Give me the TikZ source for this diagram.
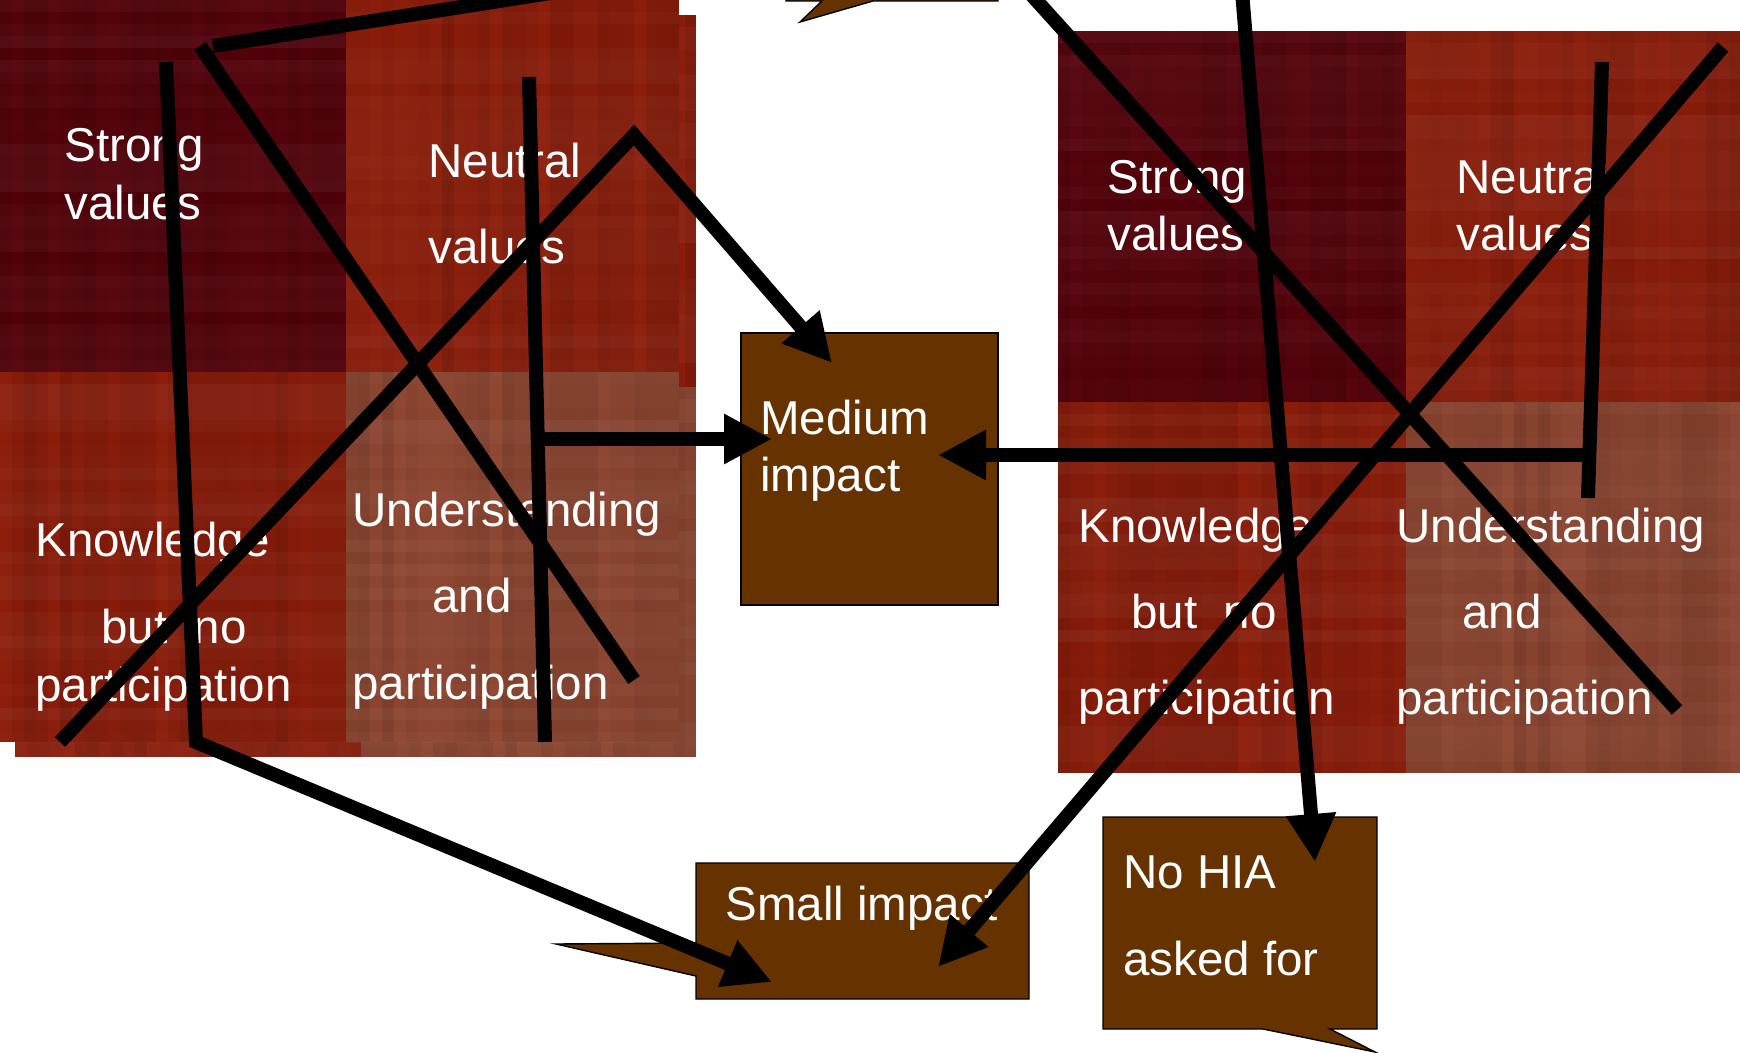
\documentclass[tikz,border=0pt]{standalone}
\usepackage{fontspec}
\setmainfont{Liberation Sans}
\usetikzlibrary{arrows.meta}
\definecolor{qdark}{HTML}{54020A}
\definecolor{qred}{HTML}{8C1D0B}
\definecolor{qlight}{HTML}{8E4631}
\definecolor{boxbrown}{HTML}{663300}
\tikzset{
  lbl/.style={text=white, anchor=base west, inner sep=0pt, font=\fontsize{23.75pt}{28pt}\selectfont},
  conn/.style={line width=7pt, black, line cap=butt, line join=miter},
  arr/.style={conn, -{Triangle[length=24pt,width=23.5pt]}},
  callout/.style={fill=boxbrown, draw=black, line width=0.7pt},
}
\newcommand{\quadfill}[6]{%
  \fill[#5] (#1,#2) rectangle (#3,#4);
  \begin{scope}
    \clip (#1,#2) rectangle (#3,#4);
    \pgfmathsetseed{#6}
    \foreach \k in {0,...,29} {
      \pgfmathsetmacro\op{rnd*0.13}
      \fill[black,opacity=\op] ({#1+\k*12},#2) rectangle ({#1+\k*12+12},#4);
    }
    \foreach \k in {0,...,31} {
      \pgfmathsetmacro\op{rnd*0.05}
      \fill[white,opacity=\op] (#1,{#2+\k*12}) rectangle (#3,{#2+\k*12+12});
    }
  \end{scope}
}
\begin{document}
\begin{tikzpicture}[x=0.5pt,y=-0.5pt]
\useasboundingbox (0,0) rectangle (1740,1053);
\clip (0,0) rectangle (1740,1053);
% ---- left grid (back copy)
\quadfill{15}{15}{361}{387}{qdark}{11}
\quadfill{361}{15}{696}{387}{qred}{12}
\quadfill{15}{387}{361}{757}{qred}{13}
\quadfill{361}{387}{696}{757}{qlight}{14}
% ---- left grid (front copy)
\quadfill{0}{0}{346}{372}{qdark}{21}
\quadfill{346}{0}{679}{372}{qred}{22}
\quadfill{0}{372}{346}{742}{qred}{23}
\quadfill{346}{372}{679}{742}{qlight}{24}
% ---- right grid
\quadfill{1058}{31}{1406}{402}{qdark}{31}
\quadfill{1406}{31}{1740}{402}{qred}{32}
\quadfill{1058}{402}{1406}{773}{qred}{33}
\quadfill{1406}{402}{1740}{773}{qlight}{34}

% ---- grid texts, left
\node[lbl] (ls1) at (64,162) {Strong};
\node[lbl] (ls2) at (64,220) {values};
\node[lbl] (ln1) at (428,178) {Neutral};
\node[lbl] (ln2) at (428,264) {values};
\node[lbl] (lk1) at (35,556) {Knowledge};
\node[lbl] (lk2) at (101,643) {but\ \ no};
\node[lbl] (lk3) at (35,701) {participation};
\node[lbl] (lu1) at (352,526) {Understanding};
\node[lbl] (lu2) at (432,612) {and};
\node[lbl] (lu3) at (352,699) {participation};
% ---- grid texts, right
\node[lbl] (rs1) at (1107,194) {Strong};
\node[lbl] (rs2) at (1107,251) {values};
\node[lbl] (rn1) at (1456,194) {Neutral};
\node[lbl] (rn2) at (1456,251) {values};
\node[lbl] (rk1) at (1078,542) {Knowledge};
\node[lbl] (rk2) at (1131,628) {but\ \ no};
\node[lbl] (rk3) at (1078,714) {participation};
\node[lbl] (ru1) at (1396,542) {Understanding};
\node[lbl] (ru2) at (1462,628) {and};
\node[lbl] (ru3) at (1396,714) {participation};

% ---- boxes
\draw[callout] (786,-30) -- (998,-30) -- (998,1) -- (873,1) -- (800,22) -- (822,1) -- (786,1) -- cycle;
\draw[callout] (741,333) rectangle (998,605);
\draw[callout] (696,863) -- (1029,863) -- (1029,999) -- (696,999) -- (696,976) -- (556,944) -- (696,943) -- cycle;
\draw[callout] (1103,817) -- (1377,817) -- (1377,1029) -- (1330,1029) -- (1375,1052) -- (1263,1029) -- (1103,1029) -- cycle;
\node[lbl] (med1) at (760,435) {Medium};
\node[lbl] (med2) at (760,492) {impact};
\node[lbl] (sml) at (725,920) {Small impact};
\node[lbl] (nohia1) at (1123,888) {No HIA};
\node[lbl] (nohia2) at (1123,975) {asked for};

% ---- connector coordinates
\coordinate (l1a) at (213,46);
\coordinate (l1b) at (760,-40);
\coordinate (l2a) at (200,46);
\coordinate (l2b) at (634,680);
\coordinate (l3a) at (166,62);
\coordinate (l3b) at (196,742);
\coordinate (smallL) at (772,982);
\coordinate (l4a) at (60,742);
\coordinate (l4b) at (634,135);
\coordinate (mediumT) at (832,363);
\coordinate (l5a) at (529,77);
\coordinate (l5b) at (545,742);
\coordinate (l5m) at (538,439);
\coordinate (mediumL) at (772,439);
\coordinate (r1a) at (1018,-20);
\coordinate (r1b) at (1677,710);
\coordinate (r2a) at (1241,-20);
\coordinate (nohiaT) at (1315,862);
\coordinate (r3a) at (1723,47);
\coordinate (smallR) at (938,967);
\coordinate (r4a) at (1602,62);
\coordinate (r4b) at (1588,498);
\coordinate (r4m) at (1589,455);
\coordinate (mediumR) at (938,455);

% ---- connectors
\draw[conn] (l1a) -- (l1b);
\draw[conn] (l2a) -- (l2b);
\draw[arr] (l3a) -- (l3b) -- (smallL);
\draw[arr] (l4a) -- (l4b) -- (mediumT);
\draw[conn] (l5a) -- (l5b);
\draw[arr] (l5m) -- (mediumL);
\draw[conn] (r1a) -- (r1b);
\draw[arr] (r2a) -- (nohiaT);
\draw[arr] (r3a) -- (smallR);
\draw[conn] (r4a) -- (r4b);
\draw[arr] (r4m) -- (mediumR);
\end{tikzpicture}
\end{document}
